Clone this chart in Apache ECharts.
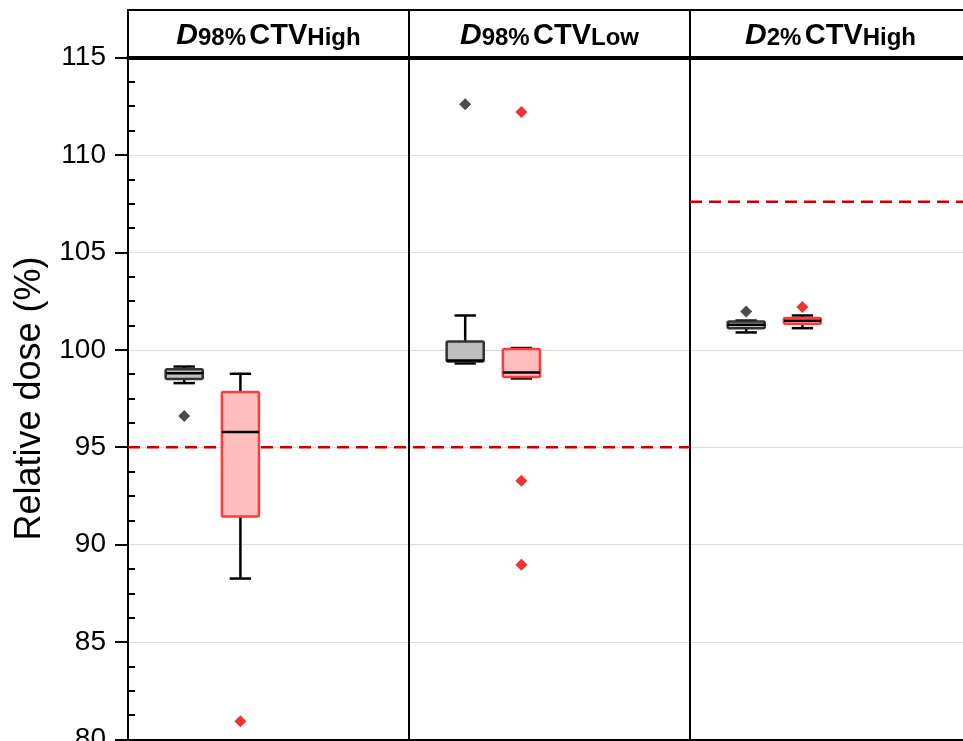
<!DOCTYPE html>
<html>
<head>
<meta charset="utf-8">
<script src="https://cdn.jsdelivr.net/npm/echarts@6/dist/echarts.min.js"></script>
<style>
  html, body { margin: 0; padding: 0; background: #fff; }
  #chart { width: 963px; height: 741px; }
</style>
</head>
<body>
<div id="chart"></div>
<script>
// panels (header titles)
const doseLevel = ["98%", "98%", "2%"];
const target = ["High", "Low", "High"];
const panelNames = ["D98% CTVHigh", "D98% CTVLow", "D2% CTVHigh"];

// box stats per panel: [min, Q1, median, Q3, max]
const grayStats = [
  [98.29, 98.5, 98.8, 99.0, 99.14],
  [99.3, 99.4, 99.45, 100.43, 101.76],
  [100.89, 101.11, 101.28, 101.45, 101.5]
];
const redStats = [
  [88.26, 91.45, 95.78, 97.83, 98.77],
  [98.53, 98.6, 98.84, 100.04, 100.09],
  [101.11, 101.33, 101.49, 101.63, 101.76]
];
const grayOutliers = [[96.6], [112.6], [101.96]];
const redOutliers = [[80.94], [112.2, 93.28, 88.97], [102.19]];

// reference limits
const lowLimit = 95;      // D98% panels
const highLimit = 107.6;  // D2% panel

// x slot of each box inside a panel (panel is 5 units wide)
const panelWidth = 5;
const graySlot = 1;
const redSlot = 2;

const yTicks = [80, 85, 90, 95, 100, 105, 110, 115];

function boxData(stats, slot) {
  return stats.map((s, i) => [i * panelWidth + slot].concat(s));
}
function outlierData(list, slot) {
  let out = [];
  list.forEach((vals, i) => vals.forEach((v) => out.push([i * panelWidth + slot, v])));
  return out;
}

function renderBox(stroke, fill) {
  return function (params, api) {
    const x = api.value(0);
    const pMin = api.coord([x, api.value(1)]);
    const pQ1 = api.coord([x, api.value(2)]);
    const pMed = api.coord([x, api.value(3)]);
    const pQ3 = api.coord([x, api.value(4)]);
    const pMax = api.coord([x, api.value(5)]);
    const w = api.size([0.66, 0])[0];
    const cap = api.size([0.38, 0])[0];
    const cx = pMed[0];
    const black = { stroke: "#000", lineWidth: 2.5 };
    return {
      type: "group",
      children: [
        { type: "line", shape: { x1: cx, y1: pMax[1], x2: cx, y2: pQ3[1] }, style: black },
        { type: "line", shape: { x1: cx, y1: pMin[1], x2: cx, y2: pQ1[1] }, style: black },
        { type: "line", shape: { x1: cx - cap / 2, y1: pMax[1], x2: cx + cap / 2, y2: pMax[1] }, style: black },
        { type: "line", shape: { x1: cx - cap / 2, y1: pMin[1], x2: cx + cap / 2, y2: pMin[1] }, style: black },
        {
          type: "rect",
          shape: { x: cx - w / 2, y: pQ3[1], width: w, height: pQ1[1] - pQ3[1], r: 1.5 },
          style: { fill: fill, stroke: stroke, lineWidth: 2.5 }
        },
        { type: "line", shape: { x1: cx - w / 2, y1: pMed[1], x2: cx + w / 2, y2: pMed[1] }, style: black }
      ]
    };
  };
}

const myChart = echarts.init(document.getElementById("chart"));

const font = "'Liberation Sans', Arial, sans-serif";

const option = {
  animation: false,
  backgroundColor: "#fff",
  grid: [
    { left: 128, width: 843, top: 57.5, height: 682, outerBoundsMode: "none", containLabel: false },
    {
      left: 128, width: 843, top: 10, height: 47.5, outerBoundsMode: "none", containLabel: false,
      show: true, borderColor: "#000", borderWidth: 2
    }
  ],
  xAxis: [
    {
      gridIndex: 0, type: "value", min: 0, max: 15, interval: 5, position: "bottom",
      axisLine: { show: true, onZero: false, lineStyle: { color: "#000", width: 2 } },
      axisTick: { show: false }, axisLabel: { show: false },
      splitLine: { show: true, lineStyle: { color: "#000", width: 2 } }
    },
    {
      gridIndex: 0, type: "category", position: "top", data: panelNames, boundaryGap: true,
      axisLine: { show: true, lineStyle: { color: "#000", width: 4 } },
      axisTick: { show: false },
      axisLabel: {
        margin: 7,
        formatter: function (v, i) {
          return "{d|D}{s|" + doseLevel[i] + "} {b|CTV}{s|" + target[i] + "}";
        },
        rich: {
          d: { fontFamily: font, fontSize: 30, fontWeight: "bold", fontStyle: "italic", color: "#000", verticalAlign: "bottom" },
          b: { fontFamily: font, fontSize: 29, fontWeight: "bold", color: "#000", verticalAlign: "bottom" },
          s: { fontFamily: font, fontSize: 24, fontWeight: "bold", color: "#000", verticalAlign: "bottom" }
        }
      }
    },
    {
      gridIndex: 1, type: "value", min: 0, max: 15, interval: 5,
      axisLine: { show: false }, axisTick: { show: false }, axisLabel: { show: false },
      splitLine: { show: true, lineStyle: { color: "#000", width: 2 } }
    }
  ],
  yAxis: [
    {
      gridIndex: 0, type: "value", position: "left", min: yTicks[0], max: yTicks[yTicks.length - 1], interval: 5,
      name: "Relative dose (%)", nameLocation: "middle", nameGap: 76,
      nameTextStyle: { fontFamily: font, fontSize: 36, color: "#000" },
      axisLine: { show: true, lineStyle: { color: "#000", width: 2 } },
      axisTick: { show: true, length: 13, lineStyle: { color: "#000", width: 2 } },
      axisLabel: { fontFamily: font, fontSize: 28, color: "#000", margin: 22 },
      splitLine: { show: true, lineStyle: { color: "#dcdcdc", width: 1 } }
    },
    {
      gridIndex: 0, type: "value", position: "left", offset: 0,
      min: yTicks[0], max: yTicks[yTicks.length - 1], interval: 5,
      axisLine: { show: false },
      axisTick: { show: false, inside: true },
      minorTick: { show: true, splitNumber: 4, length: 7, lineStyle: { color: "#000", width: 2 } },
      axisLabel: { show: false }, splitLine: { show: false }
    },
    { gridIndex: 1, type: "value", show: false, min: 0, max: 1 }
  ],
  series: [
    {
      type: "line", xAxisIndex: 0, yAxisIndex: 0, showSymbol: false, silent: true, z: 1,
      data: [[0, lowLimit], [2 * panelWidth, lowLimit]],
      lineStyle: { color: "#cc0000", width: 2.5, type: [12, 7] }
    },
    {
      type: "line", xAxisIndex: 0, yAxisIndex: 0, showSymbol: false, silent: true, z: 1,
      data: [[2 * panelWidth, highLimit], [3 * panelWidth, highLimit]],
      lineStyle: { color: "#cc0000", width: 2.5, type: [12, 7] }
    },
    {
      type: "custom", xAxisIndex: 0, yAxisIndex: 0, z: 3,
      renderItem: renderBox("#333", "#bdbdbd"),
      encode: { x: 0, y: [1, 2, 3, 4, 5] },
      data: boxData(grayStats, graySlot)
    },
    {
      type: "custom", xAxisIndex: 0, yAxisIndex: 0, z: 3,
      renderItem: renderBox("#ff3b3b", "#ffbfbf"),
      encode: { x: 0, y: [1, 2, 3, 4, 5] },
      data: boxData(redStats, redSlot)
    },
    {
      type: "scatter", xAxisIndex: 0, yAxisIndex: 0, symbol: "diamond", symbolSize: 12, z: 4,
      itemStyle: { color: "#4d4d4d", opacity: 1 },
      data: outlierData(grayOutliers, graySlot)
    },
    {
      type: "scatter", xAxisIndex: 0, yAxisIndex: 0, symbol: "diamond", symbolSize: 12, z: 4,
      itemStyle: { color: "#ee3333", opacity: 1 },
      data: outlierData(redOutliers, redSlot)
    }
  ]
};

myChart.setOption(option);
</script>
</body>
</html>
